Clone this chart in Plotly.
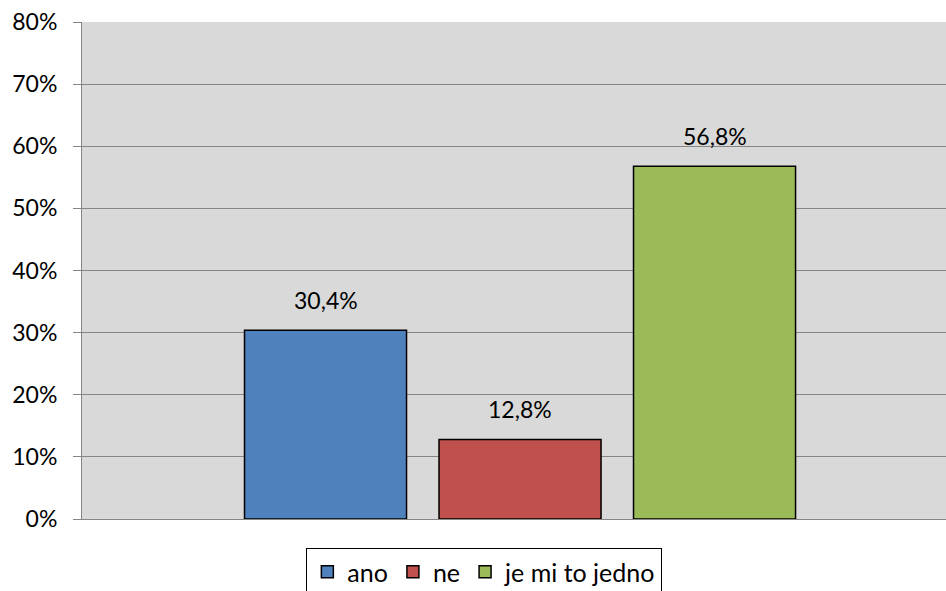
import plotly.graph_objects as go

# Survey answers and their shares
categories = ["ano", "ne", "je mi to jedno"]
shares = [0.304, 0.128, 0.568]
colors = ["#4F81BD", "#C0504D", "#9BBB59"]
y_ticks = [0, 0.1, 0.2, 0.3, 0.4, 0.5, 0.6, 0.7, 0.8]

FONT = "Lato"

fig = go.Figure()
for cat, val, col in zip(categories, shares, colors):
    fig.add_trace(go.Bar(
        x=[cat], y=[val], name=cat,
        marker=dict(color=col, line=dict(color="#000000", width=1.5)),
        hoverinfo="skip",
    ))
    fig.add_annotation(
        x=cat, y=val, text=f"{val*100:.1f}".replace(".", ",") + "%",
        showarrow=False, yanchor="bottom", yshift=14,
        font=dict(family=FONT, size=23, color="#000000"),
    )

fig.update_layout(
    width=946, height=591,
    margin=dict(l=82, r=0, t=22, b=72),
    paper_bgcolor="#FFFFFF",
    plot_bgcolor="#D9D9D9",
    barmode="overlay",
    bargap=0.167,
    separators=", ",
    font=dict(family=FONT, size=23, color="#000000"),
    showlegend=True,
    legend=dict(
        orientation="h",
        xref="container", yref="container",
        x=0.512, xanchor="center",
        y=1 - 548 / 591, yanchor="top",
        bordercolor="#000000", borderwidth=1,
        bgcolor="#FFFFFF",
        font=dict(family=FONT, size=25),
        itemwidth=30,
    ),
)

fig.update_xaxes(
    type="category", categoryorder="array", categoryarray=categories,
    range=[-1.252, 3.190],
    showticklabels=False, ticks="",
    showline=True, linecolor="#868686", linewidth=1,
    showgrid=False, zeroline=False,
)

fig.update_yaxes(
    range=[0, 0.8], tickvals=y_ticks, tickformat=".0%",
    showline=True, linecolor="#868686", linewidth=1,
    ticks="outside", ticklen=8, tickcolor="#868686",
    ticklabelstandoff=11,
    showgrid=True, gridcolor="#868686", gridwidth=1,
    zeroline=False,
    tickfont=dict(family=FONT, size=23),
)

fig.write_html("out.html")
